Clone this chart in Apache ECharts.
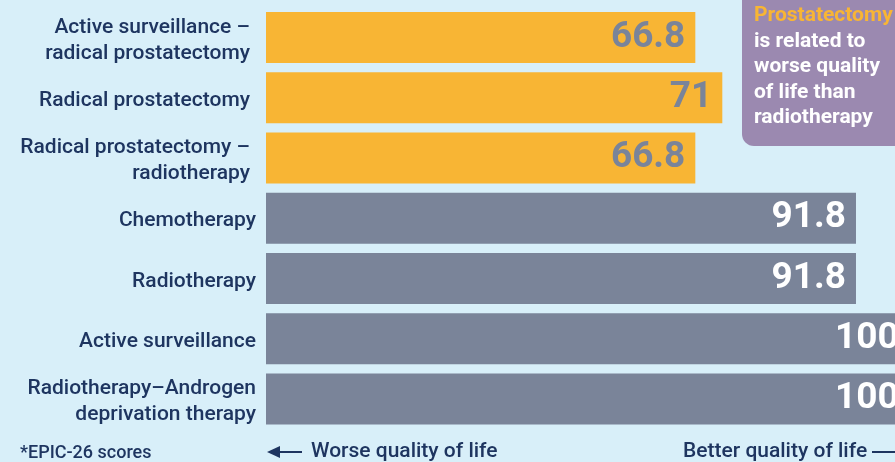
<!DOCTYPE html>
<html>
<head>
<meta charset="utf-8">
<script src="https://cdn.jsdelivr.net/npm/echarts@6/dist/echarts.min.js"></script>
<style>
  html, body { margin: 0; padding: 0; background: #d8eff9; }
  #chart { width: 895px; height: 462px; }
</style>
</head>
<body>
<div id="chart"></div>
<script>
// treatments, top to bottom
const treatments = [
  'Active surveillance –\nradical prostatectomy',
  'Radical prostatectomy',
  'Radical prostatectomy –\nradiotherapy',
  'Chemotherapy',
  'Radiotherapy',
  'Active surveillance',
  'Radiotherapy–Androgen\ndeprivation therapy'
]
// EPIC-26 scores
const scores = [66.8, 71, 66.8, 91.8, 91.8, 100, 100]
// which bars involve prostatectomy (highlighted)
const prostatectomy = [true, true, true, false, false, false, false]

const ORANGE = '#f8b534'
const GREY = '#7a8499'
const NAVY = '#1e3560'
const FONT = 'Roboto'

const chart = echarts.init(document.getElementById('chart'))

const barData = scores.map((v, i) => ({
  value: v,
  itemStyle: { color: prostatectomy[i] ? ORANGE : GREY },
  label: { color: prostatectomy[i] ? GREY : '#ffffff' },
}))

const option = {
  backgroundColor: '#d8eff9',
  animation: false,
  grid: { left: 266, right: 0, top: 7.4, bottom: 33 },
  xAxis: {
    type: 'value',
    min: 0,
    max: 97.87, // the picture cuts the 100 bars at the right edge
    show: false,
  },
  yAxis: {
    type: 'category',
    inverse: true,
    data: treatments,
    axisLine: { show: false },
    axisTick: { show: false },
    axisLabel: {
      margin: 10,
      padding: [6, 0, 0, 0],
      formatter: (val, idx) => {
        const tag = prostatectomy[idx] ? 'o' : 'g'
        return val.split('\n').map(s => '{' + tag + '|' + s + '}').join('\n')
      },
      rich: {
        o: { fontFamily: FONT, fontWeight: 500, fontSize: 21, color: NAVY, lineHeight: 26, padding: [0, 6, 0, 0], align: 'right' },
        g: { fontFamily: FONT, fontWeight: 500, fontSize: 21, color: NAVY, lineHeight: 26, align: 'right' },
      },
    },
  },
  series: [
    {
      type: 'bar',
      barWidth: 51,
      clip: false,
      data: barData,
      label: {
        show: true,
        position: 'insideRight',
        distance: 10,
        fontFamily: FONT,
        fontWeight: 'bold',
        fontSize: 37,
      },
    },
  ],
  graphic: [
    {
      type: 'rect',
      left: 742,
      top: -20,
      shape: { width: 180, height: 166, r: 12 },
      style: { fill: '#9b89b0' },
    },
    {
      type: 'text',
      x: 754,
      y: 3,
      style: {
        text: '{h|Prostatectomy}\n{w|is related to}\n{w|worse quality}\n{w|of life than}\n{w|radiotherapy}',
        rich: {
          h: { fontFamily: FONT, fontWeight: 'bold', fontSize: 21, fill: ORANGE, lineHeight: 25.5 },
          w: { fontFamily: FONT, fontWeight: 'bold', fontSize: 21, fill: '#ffffff', lineHeight: 25.5 },
        },
      },
    },
    {
      type: 'text',
      x: 20,
      y: 453,
      style: { text: '*EPIC-26 scores', fontFamily: FONT, fontWeight: 500, fontSize: 18, fill: NAVY, verticalAlign: 'middle' },
    },
    {
      type: 'polygon',
      shape: { points: [[267, 452], [280, 446], [280, 458]] },
      style: { fill: NAVY },
    },
    {
      type: 'line',
      shape: { x1: 278, y1: 452, x2: 302, y2: 452 },
      style: { stroke: NAVY, lineWidth: 2 },
    },
    {
      type: 'text',
      x: 311,
      y: 452,
      style: { text: 'Worse quality of life', fontFamily: FONT, fontWeight: 500, fontSize: 21, fill: NAVY, verticalAlign: 'middle' },
    },
    {
      type: 'text',
      x: 683,
      y: 452,
      style: { text: 'Better quality of life', fontFamily: FONT, fontWeight: 500, fontSize: 21, fill: NAVY, verticalAlign: 'middle' },
    },
    {
      type: 'line',
      shape: { x1: 872, y1: 452, x2: 895, y2: 452 },
      style: { stroke: NAVY, lineWidth: 2 },
    },
  ],
}

chart.setOption(option)
</script>
</body>
</html>
